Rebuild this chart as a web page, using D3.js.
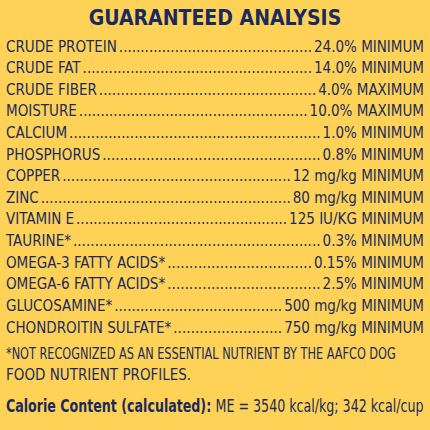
<!DOCTYPE html><html><head><script src="https://cdn.jsdelivr.net/npm/d3@7"></script>
<style>body{margin:0;background:#fdd257}</style></head><body><svg id="c" width="430" height="430"></svg>
<script>
const nutrients=["CRUDE PROTEIN","CRUDE FAT","CRUDE FIBER","MOISTURE","CALCIUM","PHOSPHORUS","COPPER","ZINC","VITAMIN E","TAURINE*","OMEGA-3 FATTY ACIDS*","OMEGA-6 FATTY ACIDS*","GLUCOSAMINE*","CHONDROITIN SULFATE*"];
const amounts=["24.0% MINIMUM","14.0% MINIMUM","4.0% MAXIMUM","10.0% MAXIMUM","1.0% MINIMUM","0.8% MINIMUM","12 mg/kg MINIMUM","80 mg/kg MINIMUM","125 IU/KG MINIMUM","0.3% MINIMUM","0.15% MINIMUM","2.5% MINIMUM","500 mg/kg MINIMUM","750 mg/kg MINIMUM"];
const col="#1b2a5e", font="'DejaVu Sans Condensed',sans-serif";
const svg=d3.select("#c");
svg.append("rect").attr("width",430).attr("height",430).attr("fill","#fdd257");
svg.append("text").attr("x",215).attr("y",25).attr("text-anchor","middle").attr("fill",col)
 .attr("font-family",font).attr("font-weight","bold").attr("font-size",21).text("GUARANTEED ANALYSIS");
const y=d3.scalePoint().domain(nutrients).range([46,327]);
const g=svg.append("g").attr("font-family",font).attr("font-size",15).attr("fill",col);
nutrients.forEach((n,i)=>{
  const yy=y(n)+5.5;
  const l=g.append("text").attr("x",6).attr("y",yy).text(n);
  const r=g.append("text").attr("x",424).attr("y",yy).attr("text-anchor","end").text(amounts[i]);
  const lw=l.node().getComputedTextLength(), rw=r.node().getComputedTextLength();
  const x0=6+lw+2, x1=424-rw-2;
  const d=g.append("text").attr("x",x0).attr("y",yy).text(".".repeat(120));
  const dw=d.node().getComputedTextLength()/120;
  const nd=Math.max(0,Math.floor((x1-x0)/dw));
  d.text(".".repeat(nd)).attr("textLength",x1-x0).attr("lengthAdjust","spacing");
});
const f=svg.append("g").attr("font-family",font).attr("font-size",15).attr("fill",col);
function fitLine(yy,size,width,build){
  const gg=f.append("g");
  const t=gg.append("text").attr("x",0).attr("y",0).attr("font-size",size);
  build(t);
  const w=t.node().getComputedTextLength();
  gg.attr("transform",`translate(6,${yy}) scale(${Math.min(1,width/w)},1)`);
}
fitLine(359,15,390,t=>t.text("*NOT RECOGNIZED AS AN ESSENTIAL NUTRIENT BY THE AAFCO DOG"));
fitLine(380,15,400,t=>t.text("FOOD NUTRIENT PROFILES."));
fitLine(412,17,418,t=>{
  t.append("tspan").attr("font-weight","bold").text("Calorie Content (calculated): ");
  t.append("tspan").text("ME = 3540 kcal/kg; 342 kcal/cup");
});
</script></body></html>
